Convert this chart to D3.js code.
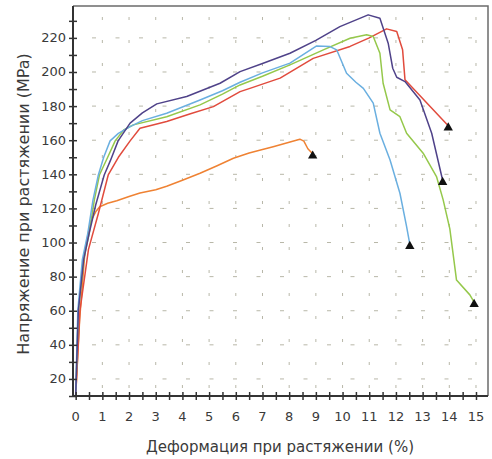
<!DOCTYPE html>
<html>
<head>
<meta charset="utf-8">
<script src="https://cdn.jsdelivr.net/npm/d3@7"></script>
<style>
  html, body { margin: 0; padding: 0; background: #fff; }
  svg { display: block; font-family: "DejaVu Sans", Verdana, sans-serif; }
</style>
</head>
<body>
<svg id="chart" width="492" height="459"></svg>
<script>
// Tensile test curves: strain (%) vs stress (MPa), one array pair per specimen.
const orangeStrain = [0, 0.15, 0.35, 0.55, 0.75, 0.9, 1.2, 1.54, 2.0, 2.41, 3.0, 3.41, 4.0, 4.66, 5.3, 5.91, 6.5, 7.0, 7.4, 8.0, 8.4, 8.55, 8.7, 8.88];
const orangeStress = [10, 55, 95, 112, 118, 121, 123, 124.5, 127, 129, 131, 133, 136.5, 140.6, 145, 149.4, 152.5, 154.5, 156.2, 158.8, 160.6, 159.5, 155, 152];

const redStrain = [0, 0.16, 0.48, 0.85, 1.22, 1.6, 2.04, 2.41, 3.41, 4.3, 5.16, 6.16, 6.53, 7.66, 8.9, 10.28, 11.0, 11.65, 12.03, 12.25, 12.34, 13.96];
const redStress = [10, 60, 96, 117, 139.6, 150, 159.6, 167, 171, 175.5, 179.7, 188.5, 190.4, 196.4, 208, 215, 220, 225.3, 223.7, 213, 195.4, 168.5];

const purpleStrain = [0, 0.1, 0.3, 0.5, 0.75, 1.07, 1.3, 1.59, 2.04, 2.5, 3.04, 4.16, 5.41, 6.16, 7.0, 8.03, 9.0, 9.9, 10.96, 11.4, 11.71, 11.88, 12.03, 12.34, 12.9, 13.34, 13.75];
const purpleStress = [10, 60, 90, 105, 122, 139.6, 148, 159.6, 170, 176, 181.3, 185.6, 193.4, 200.2, 205, 211, 218.5, 226.6, 233.5, 231.5, 216.9, 202.2, 196.9, 194.4, 183.6, 164.1, 136.5];

const blueStrain = [0, 0.08, 0.25, 0.45, 0.65, 0.85, 1.05, 1.29, 1.6, 2.04, 2.5, 3.41, 4.66, 5.5, 6.16, 7.0, 8.03, 9.03, 9.53, 9.78, 10.15, 10.5, 10.78, 11.15, 11.4, 11.78, 12.15, 12.4, 12.52];
const blueStress = [10, 60, 90, 105, 125, 139.6, 150, 159.6, 164, 168, 171.5, 175.8, 183.6, 189, 194, 199.5, 205.2, 215.3, 214.9, 213, 199.3, 194, 190.4, 181.7, 164.1, 148.4, 128.9, 109.3, 99];

const greenStrain = [0, 0.1, 0.3, 0.5, 0.7, 0.89, 1.2, 1.48, 1.8, 2.16, 3.41, 4.66, 5.5, 6.16, 7.0, 8.03, 9.28, 10.28, 10.9, 11.15, 11.4, 11.52, 11.78, 12.15, 12.4, 13.02, 13.52, 13.77, 14.02, 14.27, 14.77, 14.93];
const greenStress = [10, 60, 90, 105, 125, 139.6, 150, 159.6, 166, 169, 173.8, 180.7, 187, 192.4, 197.5, 204.2, 213, 219.8, 221.8, 220.8, 211, 193.4, 177.8, 173.8, 164.1, 152.4, 138.7, 125, 108, 78, 69.3, 65];

const xTickLabels = d3.range(0, 16);
const yTickLabels = d3.range(20, 221, 20);

const series = [
  { name: "orange", color: "#ef8233", x: orangeStrain, y: orangeStress },
  { name: "red",    color: "#e14b3d", x: redStrain,    y: redStress },
  { name: "green",  color: "#95c84b", x: greenStrain,  y: greenStress },
  { name: "blue",   color: "#6aafe0", x: blueStrain,   y: blueStress },
  { name: "purple", color: "#4f4289", x: purpleStrain, y: purpleStress }
];

const svg = d3.select("#chart");
const plotL = 73, plotR = 488, plotT = 6, plotB = 396;

const x = d3.scaleLinear().domain([-0.1, 15.45]).range([plotL, plotR]);
const y = d3.scaleLinear().domain([10, 238.7]).range([plotB, plotT]);

// Sparse dashed grid
const grid = svg.append("g").attr("stroke", "#b8b7a8").attr("stroke-width", 1);
grid.selectAll("line.v").data(d3.range(1, 16)).join("line")
  .attr("class", "v")
  .attr("x1", d => x(d)).attr("x2", d => x(d))
  .attr("y1", plotB).attr("y2", plotT)
  .attr("stroke-dasharray", "3,20")
  .attr("stroke-dashoffset", -8);
grid.selectAll("line.h").data(yTickLabels).join("line")
  .attr("class", "h")
  .attr("x1", plotL).attr("x2", plotR)
  .attr("y1", d => y(d)).attr("y2", d => y(d))
  .attr("stroke-dasharray", "4,19.5")
  .attr("stroke-dashoffset", -19);

// Frame (top and right)
svg.append("path")
  .attr("d", `M${plotL},${plotT}H${plotR}V${plotB}`)
  .attr("fill", "none").attr("stroke", "#6b6b6b").attr("stroke-width", 1.5);

// Curves
const line = d3.line().x(d => x(d[0])).y(d => y(d[1]));
series.forEach(s => {
  const pts = s.x.map((v, i) => [v, s.y[i]]);
  svg.append("path")
    .datum(pts)
    .attr("d", line)
    .attr("fill", "none")
    .attr("stroke", s.color)
    .attr("stroke-width", 1.5)
    .attr("stroke-linejoin", "round");
});

// Break markers
const tri = d3.symbol().type(d3.symbolTriangle).size(38);
series.forEach(s => {
  const n = s.x.length - 1;
  svg.append("path")
    .attr("d", tri)
    .attr("transform", `translate(${x(s.x[n])},${y(s.y[n]) + 2})`)
    .attr("fill", "#111");
});

// Axes
const axisColor = "#333";
const xAxis = d3.axisBottom(x)
  .tickValues(d3.range(0, 15.01, 0.5))
  .tickSize(0).tickFormat("");
const gx = svg.append("g").attr("transform", `translate(0,${plotB})`).call(xAxis);
gx.select(".domain").remove();
gx.append("line").attr("x1", plotL).attr("x2", plotR).attr("stroke", axisColor).attr("stroke-width", 2);
gx.selectAll(".tick").append("line").attr("y1", -4).attr("y2", 4).attr("stroke", axisColor).attr("stroke-width", 1.5);

svg.append("g").selectAll("text").data(xTickLabels).join("text")
  .attr("x", d => x(d)).attr("y", 421)
  .attr("text-anchor", "middle")
  .attr("font-size", 13).attr("fill", "#3a3a3a")
  .text(d => d);

const yAxis = d3.axisLeft(y)
  .tickValues(d3.range(10, 231, 10))
  .tickSize(0).tickFormat("");
const gy = svg.append("g").attr("transform", `translate(${plotL},0)`).call(yAxis);
gy.select(".domain").remove();
gy.append("line").attr("y1", plotT).attr("y2", plotB + 1).attr("stroke", axisColor).attr("stroke-width", 2);
gy.selectAll(".tick").append("line").attr("x1", -4).attr("x2", 4).attr("stroke", axisColor).attr("stroke-width", 1.5);

svg.append("g").selectAll("text").data(yTickLabels).join("text")
  .attr("x", 66).attr("y", d => y(d) + 4.5)
  .attr("text-anchor", "end")
  .attr("font-size", 13).attr("fill", "#3a3a3a")
  .text(d => d);

// Axis titles
svg.append("text")
  .attr("x", 280).attr("y", 452)
  .attr("text-anchor", "middle")
  .attr("font-size", 15).attr("fill", "#3a3a3a")
  .text("Деформация при растяжении (%)");

svg.append("text")
  .attr("transform", "translate(29,204) rotate(-90)")
  .attr("text-anchor", "middle")
  .attr("font-size", 16).attr("fill", "#3a3a3a")
  .text("Напряжение при растяжении (MPa)");
</script>
</body>
</html>
